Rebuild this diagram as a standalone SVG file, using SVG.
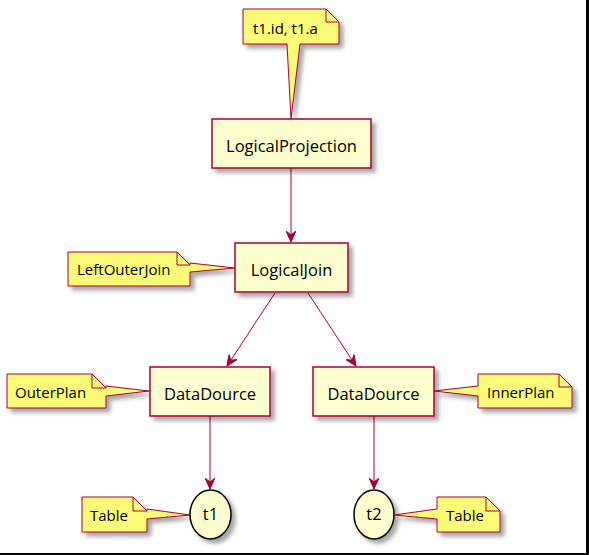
<svg xmlns="http://www.w3.org/2000/svg" width="589" height="555" viewBox="0 0 589 555">
<defs>
<filter id="sh" x="-20%" y="-20%" width="150%" height="160%">
<feDropShadow dx="4" dy="4" stdDeviation="2" flood-color="#000" flood-opacity="0.35"/>
</filter>
<marker id="ah" viewBox="0 0 12 10" refX="11" refY="5" markerWidth="12" markerHeight="10" markerUnits="userSpaceOnUse" orient="auto">
<path d="M0,0 L11,5 L0,10 L4,5 Z" fill="#A80036" stroke="#A80036" stroke-width="1"/>
</marker>
</defs>
<style>
.box{fill:#FEFECE;stroke:#A80036;stroke-width:1.5;filter:url(#sh)}
.ell{fill:#FEFECE;stroke:#000;stroke-width:1.5;filter:url(#sh)}
.note{fill:#FBFB77;stroke:#A80036;stroke-width:1;filter:url(#sh)}
.fold{fill:none;stroke:#A80036;stroke-width:1}
.edge{fill:none;stroke:#A80036;stroke-width:1;marker-end:url(#ah)}
text{font-family:"Open Sans","Noto Sans","DejaVu Sans",sans-serif;fill:#000}
.t{font-size:16.5px;text-anchor:middle}
.n{font-size:15px}
</style>
<rect width="589" height="555" fill="#fff"/>

<g id="connectors">
<line class="edge" x1="291" y1="168" x2="291" y2="242"/>
<line class="edge" x1="275" y1="293" x2="227" y2="366"/>
<line class="edge" x1="308" y1="293" x2="356" y2="366"/>
<line class="edge" x1="210" y1="416" x2="210" y2="489"/>
<line class="edge" x1="374" y1="416" x2="374" y2="489"/>
</g>

<g id="note-proj">
<path class="note" d="M243,9 L326,9 L339,22 L339,44 L300,44 L291,119 L287,44 L243,44 Z"/>
<path class="fold" d="M326,9 L326,22 L339,22"/>
<text class="n" x="253" y="34">t1.id, t1.a</text>
</g>

<g id="LogicalProjection">
<rect class="box" x="212" y="119" width="159" height="49"/>
<text class="t" x="291.5" y="152">LogicalProjection</text>
</g>

<g id="note-join">
<path class="note" d="M68,252 L177,252 L190,265 L190,263 L235,268 L190,272 L190,286 L68,286 Z"/>
<path class="fold" d="M177,252 L177,265 L190,265"/>
<text class="n" x="77" y="275">LeftOuterJoin</text>
</g>

<g id="LogicalJoin">
<rect class="box" x="235" y="243" width="113" height="49"/>
<text class="t" x="291.5" y="276">LogicalJoin</text>
</g>

<g id="note-outer">
<path class="note" d="M7,374 L92,374 L106,388 L106,386 L149,391 L106,396 L106,408 L7,408 Z"/>
<path class="fold" d="M92,374 L92,388 L106,388"/>
<text class="n" x="15" y="398">OuterPlan</text>
</g>

<g id="DataDource1">
<rect class="box" x="150" y="367" width="120" height="49"/>
<text class="t" x="210" y="400">DataDource</text>
</g>

<g id="DataDource2">
<rect class="box" x="313" y="367" width="121" height="49"/>
<text class="t" x="373.5" y="400">DataDource</text>
</g>

<g id="note-inner">
<path class="note" d="M478,374 L559,374 L572,387 L572,408 L478,408 L478,396 L434,391 L478,386 Z"/>
<path class="fold" d="M559,374 L559,387 L572,387"/>
<text class="n" x="487" y="398">InnerPlan</text>
</g>

<g id="note-t1">
<path class="note" d="M82,497 L133,497 L147,511 L147,509 L190,515 L147,519 L147,532 L82,532 Z"/>
<path class="fold" d="M133,497 L133,511 L147,511"/>
<text class="n" x="90" y="521">Table</text>
</g>

<g id="t1">
<ellipse class="ell" cx="210.5" cy="514.5" rx="20.5" ry="24.5"/>
<text class="t" x="210.5" y="520">t1</text>
</g>

<g id="t2">
<ellipse class="ell" cx="374" cy="514.5" rx="20" ry="24.5"/>
<text class="t" x="374" y="520">t2</text>
</g>

<g id="note-t2">
<path class="note" d="M437,497 L486,497 L500,511 L500,532 L437,532 L437,519 L394,515 L437,509 Z"/>
<path class="fold" d="M486,497 L486,511 L500,511"/>
<text class="n" x="446" y="521">Table</text>
</g>

<rect x="586" y="0" width="3" height="555" fill="#000"/>
<rect x="0" y="553" width="589" height="2" fill="#000"/>
</svg>
